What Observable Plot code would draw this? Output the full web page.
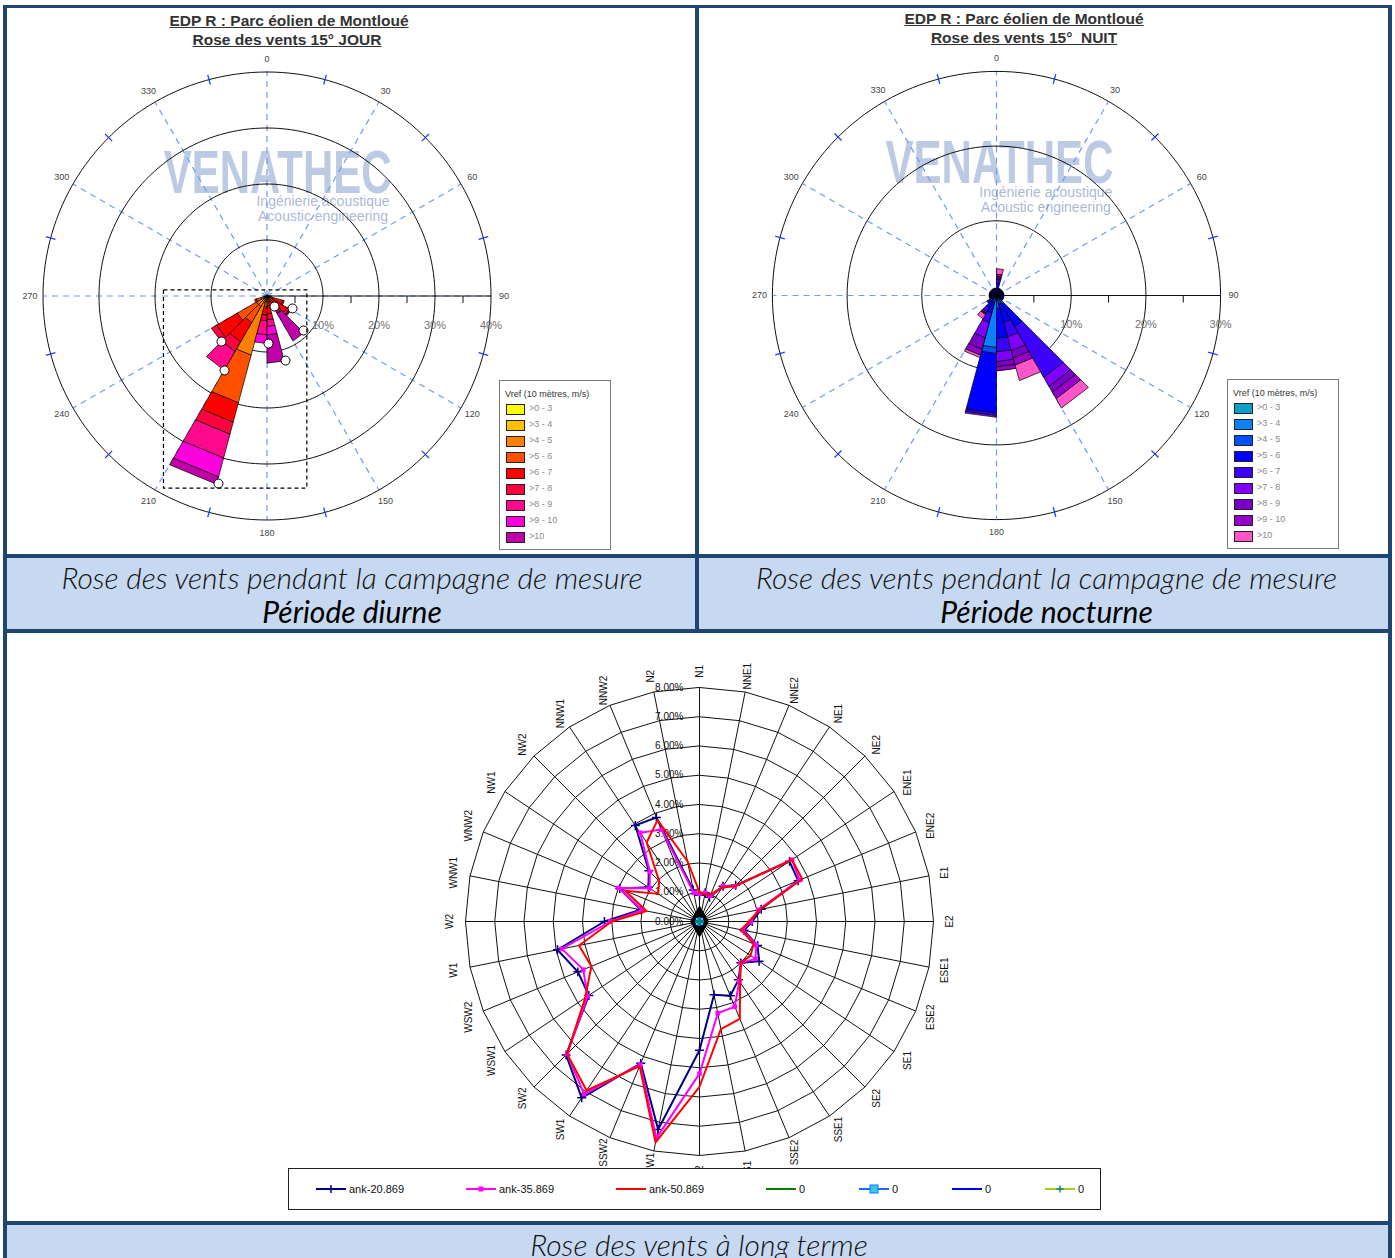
<!DOCTYPE html>
<html lang="fr">
<head>
<meta charset="utf-8">
<title>Roses des vents</title>
<script src="https://cdn.jsdelivr.net/npm/d3@7"></script>
<script src="https://cdn.jsdelivr.net/npm/@observablehq/plot@0.6"></script>
<style>
html,body{margin:0;padding:0;background:#fff;}
#page{position:relative;width:1395px;height:1258px;overflow:hidden;background:#fff;font-family:"Liberation Sans",Arial,sans-serif;}
#page > div{position:absolute;}
.cap1{font-family:Lato,"Open Sans",sans-serif;font-style:italic;font-weight:300;font-size:30px;color:#111;text-align:center;white-space:nowrap;line-height:36px;height:36px;}
.cap2{font-family:Lato,"Open Sans",sans-serif;font-style:italic;font-weight:400;font-size:30px;color:#000;text-align:center;white-space:nowrap;line-height:36px;height:36px;}
.title{font-family:"Liberation Sans",Arial,sans-serif;font-weight:bold;font-size:15.5px;color:#333;text-decoration:underline;text-align:center;white-space:nowrap;line-height:18px;height:18px;}
</style>
</head>
<body>
<div id="page"></div>
<script>
// ---------------- DATA ----------------
const sectorStart = [0,15,30,45,60,75,90,105,120,135,150,165,180,195,210,225,240,255,270,285,300,315,330,345];
const speedClasses = [">0 - 3", ">3 - 4", ">4 - 5", ">5 - 6", ">6 - 7", ">7 - 8", ">8 - 9", ">9 - 10", ">10"];
const jourColors = ["#ffff00","#ffc000","#ff8000","#ff5000","#ff0000","#ff0040","#ff0a8c","#ff00dc","#c000a8"];
const nuitColors = ["#0aa0c8","#0a82ff","#0050ff","#0000ff","#3c00ff","#7f00ff","#7800c8","#9600c8","#ff55c8"];

// Rose JOUR : fréquence (%) par secteur de 15° et par classe de vitesse
const jour03  = [0.1,0.1,0.1,0.1,0.1,0.1,0.1,0.1,0.1,0.1,0.1,0.1,0.2,0.3,0.2,0.2,0.2,0.1,0.1,0.1,0.1,0.1,0.1,0.1];
const jour34  = [0.1,0.1,0.1,0.1,0.1,0.1,0.1,0.2,0.2,0.2,0.2,0.2,0.3,1.0,0.5,0.5,0.4,0.2,0.1,0.1,0.1,0.1,0.1,0.1];
const jour45  = [0,0,0,0,0,0.1,0.1,0.3,0.3,0.3,0.3,0.5,0.5,9.7,1.5,1.5,0.6,0.2,0,0,0,0,0,0];
const jour56  = [0,0,0,0,0,0,0.2,0.6,0.6,0.6,0.5,1.0,1.0,8.8,3.3,4.0,0.8,0.2,0,0,0,0,0,0];
const jour67  = [0,0,0,0,0,0,0.3,1.8,3.0,1.5,0.8,1.5,1.5,3.6,4.0,4.3,0.3,0,0,0,0,0,0,0];
const jour78  = [0,0,0,0,0,0,0,0.2,0.5,0.5,0.3,1.0,1.0,2.2,2.0,1.0,0,0,0,0,0,0,0,0];
const jour89  = [0,0,0,0,0,0,0,0,0.2,0.3,0.2,1.2,2.5,4.4,3.8,0,0,0,0,0,0,0,0,0];
const jour910 = [0,0,0,0,0,0,0,0,0,0.2,0,1.5,1.5,3.5,0,0,0,0,0,0,0,0,0,0];
const jour10  = [0,0,0,0,0,0,0,0,0.1,5.6,0,5.0,0,1.3,0,0,0,0,0,0,0,0,0,0];

// Rose NUIT
const nuit03  = [0.1,0.1,0.1,0.1,0.1,0.1,0.1,0.1,0.1,0.1,0.1,0.1,0.2,0.1,0.1,0.1,0.1,0.1,0.1,0.1,0.1,0.1,0.1,0.1];
const nuit34  = [0.3,0.15,0.15,0.15,0.15,0.15,0.15,0.15,0.15,0.3,0.3,0.3,6.8,0.2,0.2,0.2,0.15,0.15,0.15,0.15,0.15,0.15,0.15,0.15];
const nuit45  = [0.5,0.2,0.2,0.2,0.2,0.2,0.2,0.2,0.2,1.0,0.8,1.4,0.8,0.8,0.5,0.4,0.2,0.2,0.2,0.2,0.2,0.2,0.2,0.2];
const nuit56  = [0.8,0.3,0.3,0.3,0.3,0.3,0.3,0.3,0.3,3.5,2.6,4.0,8.0,1.4,1.2,0.5,0.3,0.3,0.3,0.3,0.3,0.3,0.3,0.3];
const nuit67  = [0.5,0.15,0.15,0.15,0.15,0.15,0.15,0.15,0.15,7.8,2.0,1.8,0.3,1.3,0.6,0.2,0.15,0.15,0.15,0.15,0.15,0.15,0.15,0.15];
const nuit78  = [0.2,0.05,0.05,0.05,0.05,0.05,0.05,0.05,0.05,1.4,1.9,1.3,0.2,2.1,0.2,0.1,0.05,0.05,0.05,0.05,0.05,0.05,0.05,0.05];
const nuit89  = [0.2,0.05,0.05,0.05,0.05,0.05,0.05,0.05,0.05,0.9,1.0,0.7,0,1.6,0.1,0,0.05,0.05,0.05,0.05,0.05,0.05,0.05,0.05];
const nuit910 = [0.3,0,0,0,0,0,0,0,0,1.0,1.0,0.5,0,0.8,0.1,0,0,0,0,0,0,0,0,0];
const nuit10  = [0.7,0,0,0,0,0,0,0,0,1.4,2.1,0,0,0.3,0.6,0,0,0,0,0,0,0,0,0];

// Poignées de sélection (angle °, rayon %) visibles sur la rose JOUR
const jourHandleAngle = [144.5,116,133.4,178.2,225,164,209.7,194.5];
const jourHandleR     = [2.3,5.07,8.97,8.5,11.5,12,15.3,34.6];
// Cadre pointillé (étendue en %, repère cartésien centré)
const jourFrameX = [-18.4, 7.2];
const jourFrameY = [-34.4, 1.0];

const joursRings = [10,20,30,40];
const nuitRings = [10,20,30];
const wmLines = ["Ingénierie acoustique","Acoustic engineering"];

// Rose long terme (radar)
const dirLabels = ["N1","NNE1","NNE2","NE1","NE2","ENE1","ENE2","E1","E2","ESE1","ESE2","SE1","SE2","SSE1","SSE2","S1","S2","SSW1","SSW2","SW1","SW2","WSW1","WSW2","W1","W2","WNW1","WNW2","NW1","NW2","NNW1","NNW2","N2"];
const ringLabels = ["0.00%","1.00%","2.00%","3.00%","4.00%","5.00%","6.00%","7.00%","8.00%"];
const ank20 = [0.9,1.0,0.9,1.45,1.75,3.7,3.65,2.15,1.8,1.55,2.15,2.45,2.0,2.4,2.75,2.55,4.4,7.25,5.25,7.25,6.45,4.55,4.5,4.95,3.25,2.05,2.95,2.1,2.45,3.95,3.85,1.1];
const ank35 = [0.95,1.0,0.95,1.45,1.7,3.8,3.7,2.05,1.75,1.5,2.1,2.3,2.0,2.45,3.15,3.2,5.2,7.55,5.3,7.1,6.4,4.6,4.3,4.8,3.05,2.0,3.0,2.05,2.4,3.65,3.4,1.0];
const ank50 = [1.0,0.95,1.0,1.4,1.7,3.8,3.8,2.1,1.7,1.45,2.0,2.1,2.0,2.5,3.6,3.75,5.65,7.7,5.35,6.95,6.4,4.7,4.0,4.2,3.0,1.85,2.75,1.7,1.95,3.25,3.75,2.1];
const serieNulle = [0,0,0,0,0,0,0,0,0,0,0,0,0,0,0,0,0,0,0,0,0,0,0,0,0,0,0,0,0,0,0,0];
const legendNames = ["ank-20.869","ank-35.869","ank-50.869","0","0","0","0"];
const legendLine = ["#000080","#ff00ff","#ff0000","#008000","#1a6bff","#0000ff","#a0d020"];
const legendMark = ["plus","square","none","none","bigsquare","none","plus2"];

// ---------------- HELPERS ----------------
const page = document.getElementById("page");
function box(css, html){ const d=document.createElement("div"); d.style.cssText=css; if(html!==undefined) d.innerHTML=html; page.appendChild(d); return d; }
const rad = a => a*Math.PI/180;
const px = (r,a) => r*Math.sin(rad(a));
const py = (r,a) => r*Math.cos(rad(a));
const baseStyle = {background:"transparent", fontFamily:"Liberation Sans, Arial, sans-serif", overflow:"visible"};

function rose(cfg){
  const {W,H,cx,cy,k,rings,midTicks,classes,colors,wm,extra} = cfg;
  const rmax = rings[rings.length-1];
  const spokeAngles = sectorStart.filter(a => a%30===0);
  const tickAngles = sectorStart.filter(a => a%30===15);
  const marks = [];
  marks.push(Plot.text(["VENATHEC"], {x:wm.x, y:wm.y, fontSize:62, fontWeight:"bold", fill:"#9fb3d9", fillOpacity:0.7, textAnchor:"middle", lineAnchor:"middle"}));
  marks.push(Plot.text(wmLines, {x:wm.x2, y:(d,i)=>wm.y2[i], fontSize:14, fill:"#9fb0cf", fillOpacity:0.9, textAnchor:"middle", lineAnchor:"middle"}));
  marks.push(Plot.link(spokeAngles, {x1:0, y1:0, x2:a=>px(rmax,a), y2:a=>py(rmax,a), stroke:"#6d9cf0", strokeWidth:1.2, strokeDasharray:"6,5"}));
  const ringPts = rings.flatMap(r => d3.range(0,361,2).map(a => ({r, x:px(r,a), y:py(r,a)})));
  marks.push(Plot.line(ringPts, {x:"x", y:"y", z:"r", stroke:"#111", strokeWidth:1}));
  marks.push(Plot.link([rmax], {x1:0, y1:0, x2:d=>d, y2:0, stroke:"#111", strokeWidth:1}));
  marks.push(Plot.link(midTicks, {x1:d=>d, x2:d=>d, y1:0, y2:-7/k, stroke:"#111", strokeWidth:1}));
  classes.forEach((arr,c) => {
    const polys = [];
    sectorStart.forEach((a0,i) => {
      const v = arr[i]; if (!(v>0)) return;
      let r0 = 0; for (let j=0;j<c;j++) r0 += classes[j][i];
      const r1 = r0+v, a1 = a0+15;
      [[r0,a0],[r1,a0],[r1,a1],[r0,a1]].forEach(([r,a]) => polys.push({id:i, x:px(r,a), y:py(r,a)}));
    });
    marks.push(Plot.line(polys, {x:"x", y:"y", z:"id", fill:colors[c], stroke:"#000", strokeWidth:0.7, curve:"linear-closed", strokeLinejoin:"miter"}));
  });
  marks.push(Plot.link(tickAngles, {x1:a=>px(rmax-5/k,a), y1:a=>py(rmax-5/k,a), x2:a=>px(rmax+5/k,a), y2:a=>py(rmax+5/k,a), stroke:"#1f3fff", strokeWidth:1.3}));
  marks.push(Plot.text(spokeAngles, {x:a=>px(237/k,a), y:a=>py(237/k,a), text:a=>String(a), fontSize:9, fill:"#444"}));
  marks.push(Plot.text(rings, {x:d=>d, y:-29/k, text:d=>d+"%", fontSize:11, fill:"#707070"}));
  if (extra) marks.push(...extra);
  return Plot.plot({width:W, height:H, margin:0,
    x:{domain:[-cx/k,(W-cx)/k], axis:null}, y:{domain:[-(H-cy)/k, cy/k], axis:null},
    style:baseStyle, marks});
}

function roseLegend(left, top, colors){
  const d = box(`left:${left}px;top:${top}px;width:112px;height:170px;background:#fff;border:1px solid #7a7a7a;box-sizing:border-box;`);
  let html = `<div style="position:absolute;left:5px;top:7px;font-size:9px;line-height:12px;color:#333;white-space:nowrap">Vref (10 mètres, m/s)</div>`;
  speedClasses.forEach((lab,i) => {
    html += `<div style="position:absolute;left:6px;top:${23+16*i}px;width:17px;height:9px;background:${colors[i]};border:1px solid #222"></div>`;
    html += `<div style="position:absolute;left:29px;top:${21+16*i}px;font-size:9px;color:#8a8a8a;line-height:13px;white-space:nowrap">${lab.replace(">","&gt;")}</div>`;
  });
  d.innerHTML = html;
}

function fixWatermark(svg, len){
  d3.select(svg).selectAll("text").filter(function(){ return this.textContent==="VENATHEC"; })
    .attr("textLength", len).attr("lengthAdjust","spacingAndGlyphs");
}

// ---------------- FRAME ----------------
const FC = "#1d4670", CB = "#c6d9f1";
box(`left:7px;top:558px;width:688px;height:71px;background:${CB}`);
box(`left:699px;top:558px;width:689px;height:71px;background:${CB}`);
box(`left:7px;top:1225px;width:1381px;height:33px;background:${CB}`);

// ---------------- ROSE JOUR ----------------
{
  const k = 5.6;
  const frame = Plot.rect([0], {x1:jourFrameX[0], x2:jourFrameX[1], y1:jourFrameY[0], y2:jourFrameY[1], fill:"none", stroke:"#000", strokeWidth:1.2, strokeDasharray:"4,3"});
  const handles = Plot.dot(jourHandleR, {x:(r,i)=>px(r,jourHandleAngle[i]), y:(r,i)=>py(r,jourHandleAngle[i]), r:4.5, fill:"#fff", stroke:"#000", strokeWidth:1});
  const svg = rose({W:687, H:546, cx:258.5, cy:287.5, k, rings:joursRings, midTicks:[5,15,25,35],
    classes:[jour03,jour34,jour45,jour56,jour67,jour78,jour89,jour910,jour10], colors:jourColors,
    wm:{x:1.9, y:22.0, x2:10.0, y2:[16.9,14.2]}, extra:[handles, frame]});
  fixWatermark(svg, 228);
  const holder = box("left:8px;top:8px;width:687px;height:546px;");
  holder.appendChild(svg);
  box("left:89px;top:12px;width:400px;", "").className = "title";
  page.lastChild.textContent = "EDP R : Parc éolien de Montloué";
  box("left:87px;top:31px;width:400px;").className = "title";
  page.lastChild.textContent = "Rose des vents 15° JOUR";
  roseLegend(499, 380, jourColors);
}

// ---------------- ROSE NUIT ----------------
{
  const k = 7.47;
  const svg = rose({W:689, H:546, cx:297, cy:287, k, rings:nuitRings, midTicks:[5,15,25],
    classes:[nuit03,nuit34,nuit45,nuit56,nuit67,nuit78,nuit89,nuit910,nuit10], colors:nuitColors,
    wm:{x:0.4, y:17.7, x2:6.6, y2:[13.8,11.8]}});
  fixWatermark(svg, 228);
  const holder = box("left:699px;top:8px;width:689px;height:546px;");
  holder.appendChild(svg);
  box("left:824px;top:10px;width:400px;").className = "title";
  page.lastChild.textContent = "EDP R : Parc éolien de Montloué";
  box("left:824px;top:29px;width:400px;").className = "title";
  page.lastChild.innerHTML = "Rose des vents 15°&nbsp; NUIT";
  roseLegend(1227, 379, nuitColors);
}

// ---------------- RADAR LONG TERME ----------------
{
  const W=1380, H=588, cx=691, cy=288, k=29.25;
  const n = dirLabels.length, ang = i => i*360/n;
  const ringVals = ringLabels.map((_,i)=>i).slice(1);
  const rmax = ringVals[ringVals.length-1];
  const ringPts = ringVals.flatMap(r => dirLabels.map((_,i)=>({r, x:px(r,ang(i)), y:py(r,ang(i))})));
  const pts = vals => vals.map((v,i)=>({x:px(v,ang(i)), y:py(v,ang(i))}));
  const marks = [
    Plot.link(dirLabels, {x1:0, y1:0, x2:(d,i)=>px(rmax,ang(i)), y2:(d,i)=>py(rmax,ang(i)), stroke:"#111", strokeWidth:1}),
    Plot.line(ringPts, {x:"x", y:"y", z:"r", curve:"linear-closed", stroke:"#111", strokeWidth:1}),
    Plot.text(ringLabels, {x:-0.55, y:(d,i)=>i, textAnchor:"end", fontSize:10, fill:"#111"}),
    Plot.text(dirLabels, {x:(d,i)=>px(8.55,ang(i)), y:(d,i)=>py(8.55,ang(i)), rotate:-90, fontSize:10, fill:"#111"}),
    Plot.line(pts(ank20), {x:"x", y:"y", curve:"linear-closed", stroke:"#000080", strokeWidth:2}),
    Plot.dot(pts(ank20), {x:"x", y:"y", symbol:"plus", r:3, stroke:"#000080", strokeWidth:1.5}),
    Plot.line(pts(ank35), {x:"x", y:"y", curve:"linear-closed", stroke:"#ff00ff", strokeWidth:2}),
    Plot.dot(pts(ank35), {x:"x", y:"y", symbol:"square", r:2.6, fill:"#ff00ff"}),
    Plot.line(pts(ank50), {x:"x", y:"y", curve:"linear-closed", stroke:"#ff0000", strokeWidth:2}),
    Plot.line(pts(serieNulle), {x:"x", y:"y", curve:"linear-closed", stroke:"#008000", strokeWidth:2}),
    Plot.dot(pts(serieNulle).slice(0,1), {x:"x", y:"y", symbol:"diamond", r:9, fill:"#000", stroke:"#000"}),
    Plot.dot(pts(serieNulle), {x:"x", y:"y", symbol:"square", r:4.5, fill:"#33ccee", stroke:"#000080", strokeWidth:1}),
    Plot.dot(pts(serieNulle), {x:"x", y:"y", symbol:"plus", r:3, stroke:"#008080"})
  ];
  const svg = Plot.plot({width:W, height:H, margin:0,
    x:{domain:[-cx/k,(W-cx)/k], axis:null}, y:{domain:[-(H-cy)/k, cy/k], axis:null},
    style:baseStyle, marks});
  const holder = box(`left:8px;top:633px;width:${W}px;height:${H}px;`);
  holder.appendChild(svg);

  // legend
  const lg = box("left:288px;top:1168px;width:813px;height:42px;background:#fff;border:1px solid #222;box-sizing:border-box;display:flex;align-items:center;padding-left:27px;font-family:'Liberation Sans',Arial,sans-serif;font-size:11px;color:#111;");
  legendNames.forEach((name,i) => {
    const c = legendLine[i], m = legendMark[i];
    let mk = "";
    if (m==="plus") mk = `<path d="M15,1V9M11,5H19" stroke="${c}" stroke-width="1.5"/>`;
    if (m==="square") mk = `<rect x="12.5" y="2.5" width="5" height="5" fill="${c}"/>`;
    if (m==="bigsquare") mk = `<rect x="11" y="1" width="8" height="8" fill="#33ccee" stroke="#1a6bff"/>`;
    if (m==="plus2") mk = `<path d="M15,1.5V8.5M11.5,5H18.5" stroke="#008080" stroke-width="1.3"/>`;
    const item = document.createElement("div");
    item.style.cssText = `display:flex;align-items:center;flex:none;width:${name.length>1?150:93}px;`;
    item.innerHTML = `<svg width="30" height="10" style="flex:none"><line x1="0" y1="5" x2="30" y2="5" stroke="${c}" stroke-width="2"/>${mk}</svg><span style="margin-left:3px">${name}</span>`;
    lg.appendChild(item);
  });
}

// ---------------- BORDERS ----------------
box(`left:3px;top:5px;width:1389px;height:3px;background:${FC}`);
box(`left:3px;top:5px;width:4px;height:1253px;background:${FC}`);
box(`left:1388px;top:5px;width:4px;height:1253px;background:${FC}`);
box(`left:695px;top:5px;width:4px;height:627px;background:${FC}`);
box(`left:3px;top:554px;width:1389px;height:4px;background:${FC}`);
box(`left:3px;top:629px;width:1389px;height:4px;background:${FC}`);
box(`left:3px;top:1221px;width:1389px;height:4px;background:${FC}`);

// ---------------- CAPTIONS ----------------
box("left:7px;top:559px;width:690px;").className="cap1";
page.lastChild.textContent = "Rose des vents pendant la campagne de mesure";
box("left:7px;top:593px;width:690px;").className="cap2";
page.lastChild.textContent = "Période diurne";
box("left:699px;top:559px;width:695px;").className="cap1";
page.lastChild.textContent = "Rose des vents pendant la campagne de mesure";
box("left:699px;top:593px;width:695px;").className="cap2";
page.lastChild.textContent = "Période nocturne";
box("left:7px;top:1226px;width:1384px;").className="cap1";
page.lastChild.textContent = "Rose des vents à long terme";
</script>
</body>
</html>
